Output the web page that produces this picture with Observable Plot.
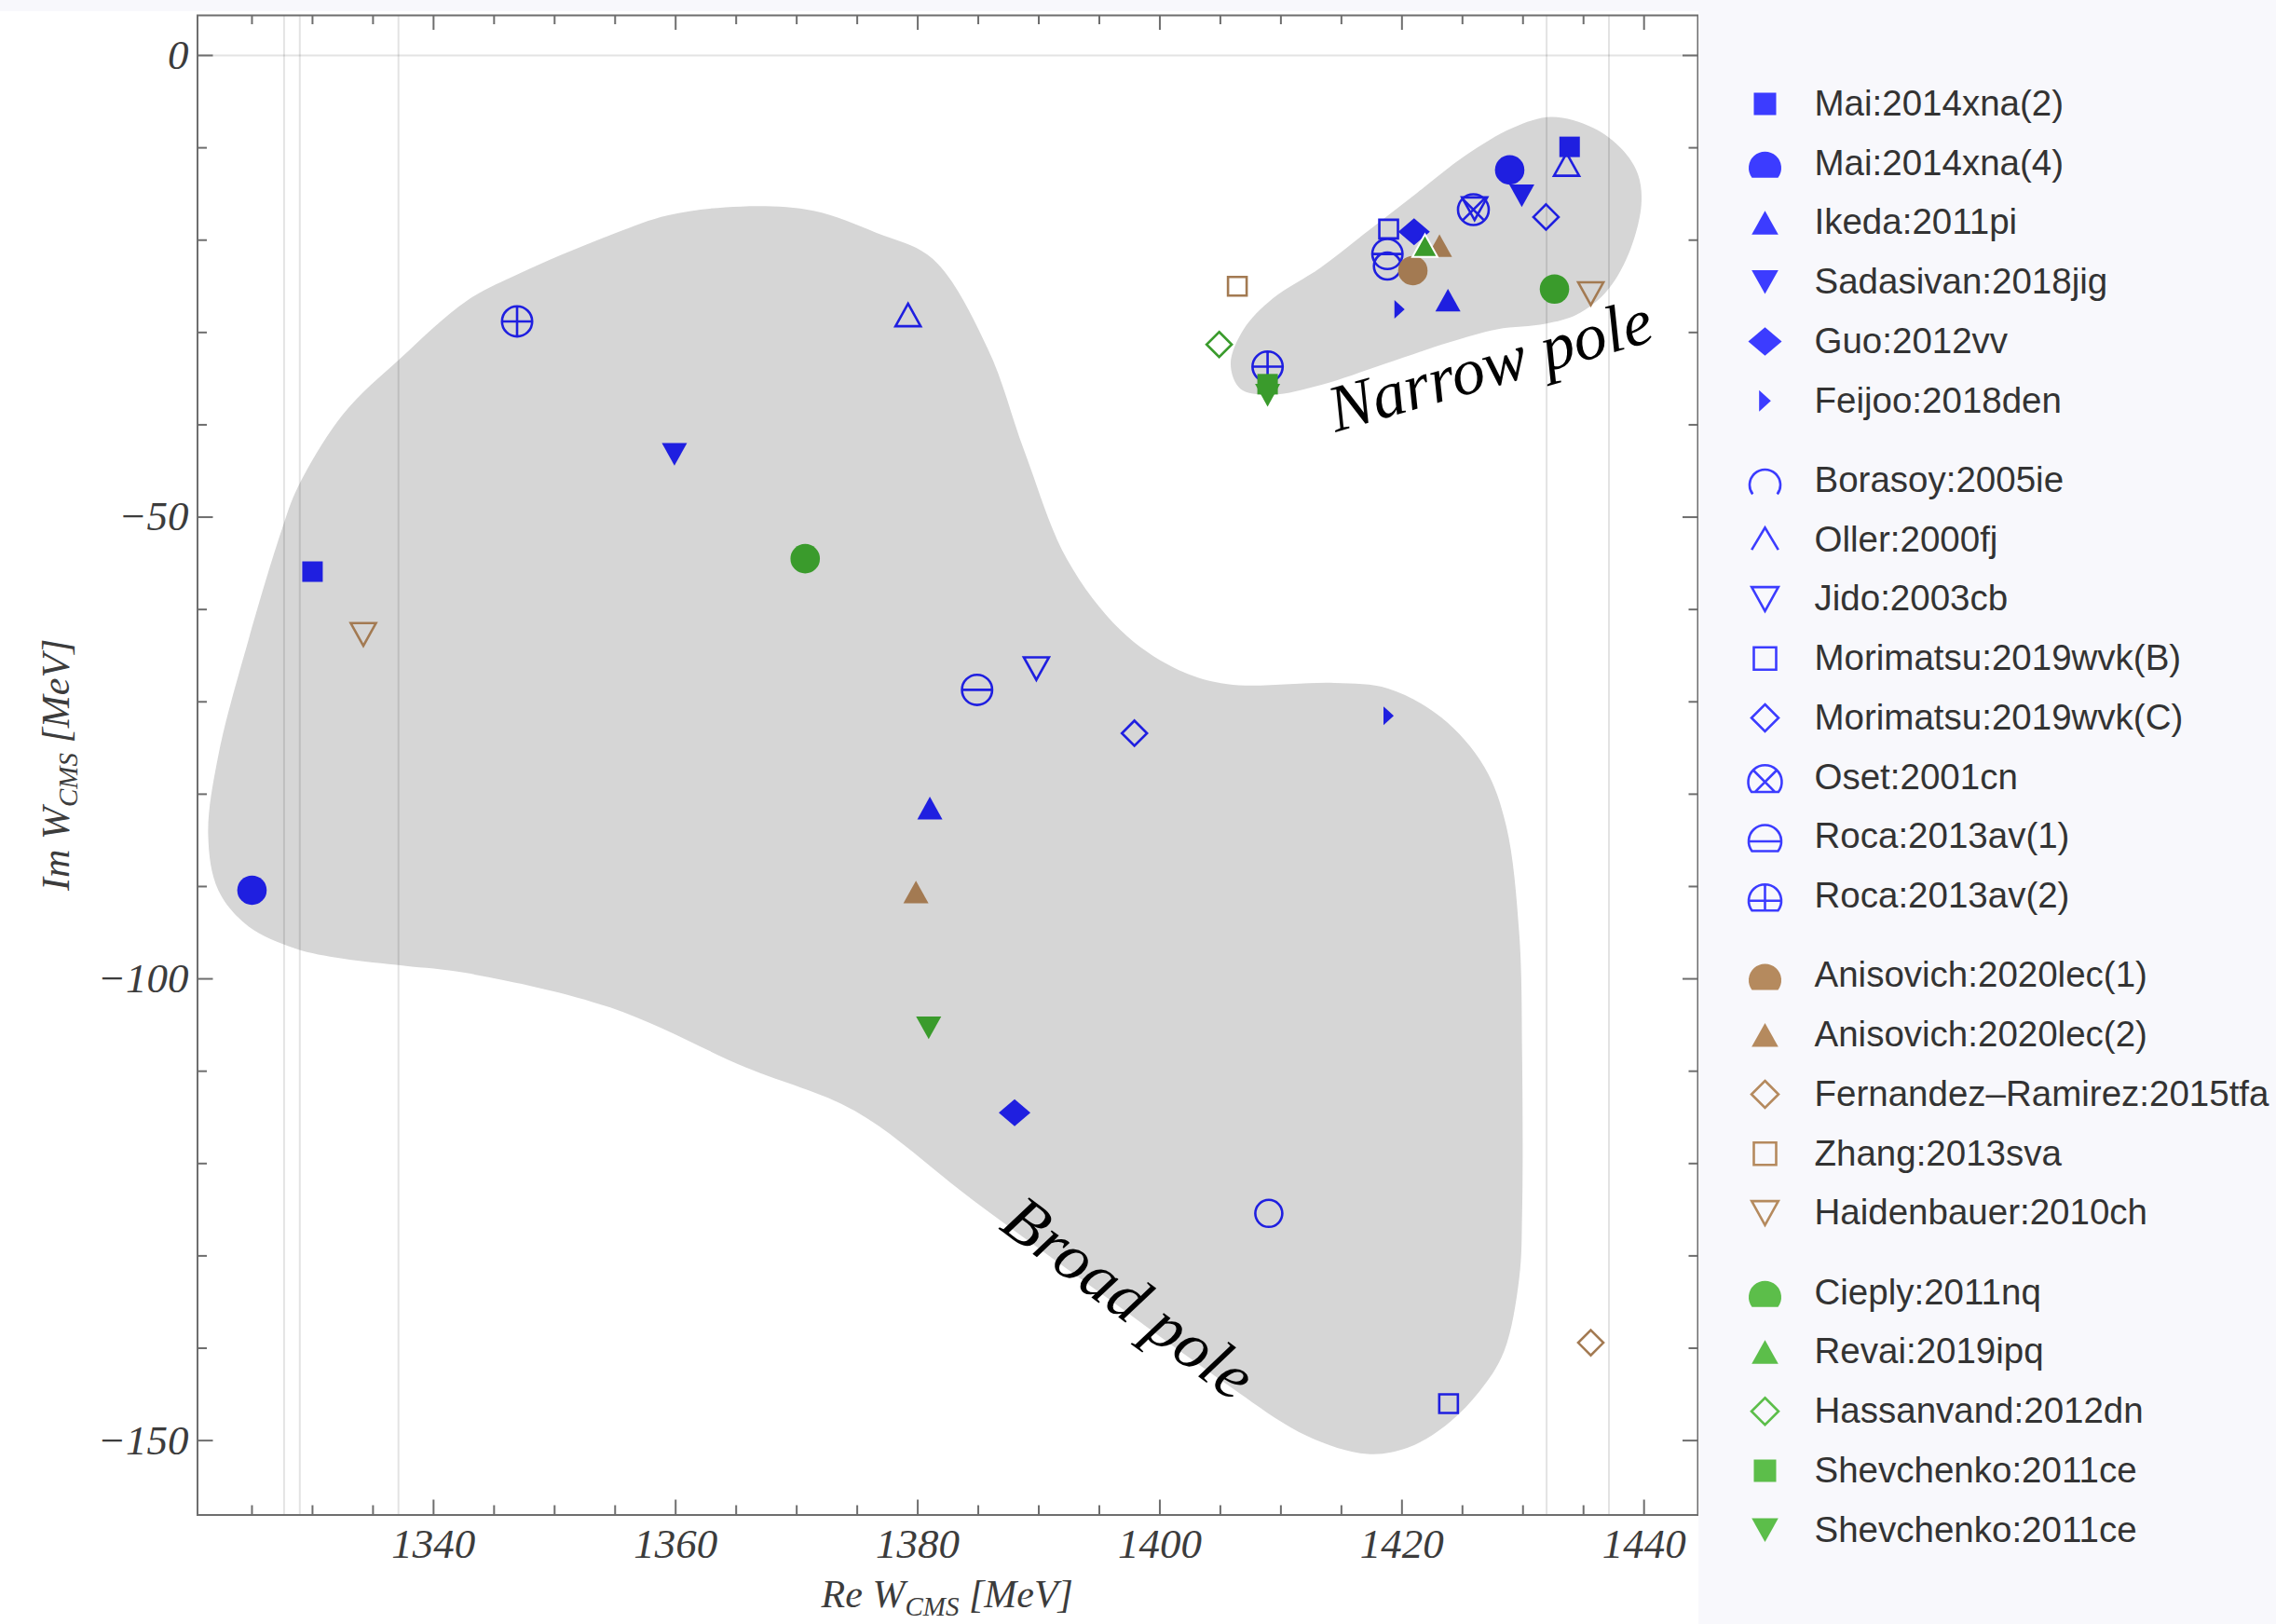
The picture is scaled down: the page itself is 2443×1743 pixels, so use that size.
<!DOCTYPE html>
<html><head><meta charset="utf-8">
<script src="https://cdn.jsdelivr.net/npm/d3@7"></script>
<script src="https://cdn.jsdelivr.net/npm/@observablehq/plot@0.6"></script>
<style>
html,body{margin:0;padding:0;background:#f8f8fc;}
#wrap{position:relative;width:2443px;height:1743px;overflow:hidden;background:#f8f8fc;}
#main{position:absolute;left:0;top:12px;}
#legend{position:absolute;left:1823px;top:0;}
</style></head>
<body><div id="wrap"><div id="main"></div><div id="legend"></div></div>
<script>
// ---------------- data ----------------
const labels = ["Mai:2014xna(2)","Mai:2014xna(4)","Ikeda:2011pi","Sadasivan:2018jig","Guo:2012vv","Feijoo:2018den",
  "Borasoy:2005ie","Oller:2000fj","Jido:2003cb","Morimatsu:2019wvk(B)","Morimatsu:2019wvk(C)","Oset:2001cn","Roca:2013av(1)","Roca:2013av(2)",
  "Anisovich:2020lec(1)","Anisovich:2020lec(2)","Fernandez\u2013Ramirez:2015tfa","Zhang:2013sva","Haidenbauer:2010ch",
  "Cieply:2011nq","Revai:2019ipq","Hassanvand:2012dn","Shevchenko:2011ce","Shevchenko:2011ce"];
const groupOf = [0,0,0,0,0,0, 1,1,1,1,1,1,1,1, 2,2,2,2,2, 3,3,3,3,3];
const markerOf = ["square","circle","triUp","triDown","diamondWide","triRight",
  "circle","triUp","triDown","square","diamond","circX","circH","circP",
  "circle","triUp","diamond","square","triDown",
  "circle","triUp","diamond","square","triDown"];
const legendMarkerOf = ["square","domeF","triUp","triDown","diamondWide","triRight",
  "domeO","vee","triDown","square","diamond","domeX","domeH","domeP",
  "domeF","triUp","diamond","square","triDown",
  "domeF","triUp","diamond","square","triDown"];
const filledOf = [1,1,1,1,1,1, 0,0,0,0,0,0,0,0, 1,1,0,0,0, 1,1,0,1,1];
const poleRe = [[1330,1433.85],[1325,1428.9],[1381,1423.8],[1359.9,1429.9],[1388,1421],[1418.9,1419.8],
  [1409,1418.8],[1379.2,1433.6],[1389.8,1426],[1423.85,1418.9],[1397.9,1431.9],[1425.9],[1384.9,1418.8],[1346.9,1408.9],
  [1420.9],[1379.85,1423.1],[1435.6],[1406.4],[1334.2,1435.6],
  [1370.7,1432.6],[1421.9],[1404.9],[1408.9],[1380.9,1408.9]];
const poleIm = [[-55.9,-9.9],[-90.4,-12.4],[-81.5,-26.5],[-43.2,-15.2],[-114.5,-19.1],[-71.5,-27.5],
  [-125.4,-22.8],[-28.1,-11.8],[-66.4,-16.6],[-146,-18.8],[-73.4,-17.5],[-16.7],[-68.7,-21.5],[-28.8,-33.7],
  [-23.3],[-90.6,-20.6],[-139.4],[-25],[-62.7,-25.8],
  [-54.5,-25.3],[-20.6],[-31.3],[-35.6],[-105.3,-36.8]];

const broadBlobRe = [1321.38,1322.22,1324.73,1328.57,1332.47,1337.57,1342.73,1354.6,1365.82,1374.8,1384.6,1395.6,1405.2,1412.01,1417.14,1420.48,1423.56,1426.38,1428.43,1429.69,1429.93,1429.93,1429.69,1428.61,1426.81,1423.25,1418.85,1414.43,1405.58,1401.14,1396.75,1392.33,1388.79,1385.79,1381.23,1376.55,1371.4,1365.4,1359.4,1354.96,1347.1,1342.73,1337.33,1332.53,1328.81,1327.49,1324.73,1322.22];
const broadBlobIm = [-84.44,-90.41,-94.34,-96.7,-97.8,-98.58,-99.37,-103.1,-109.6,-114.3,-124.0,-134.5,-143.6,-149.4,-151.45,-150.77,-148.42,-144.72,-140.35,-132.38,-125.15,-108.65,-95.13,-83.41,-77.05,-71.7,-68.56,-67.96,-68.09,-66.29,-62.24,-54.57,-42.77,-31.77,-22.03,-19.19,-16.83,-16.36,-17.3,-19.27,-23.6,-26.58,-32.71,-38.84,-46.7,-51.26,-63.21,-75.79];
const narrowBlobRe = [1432.36,1435.8,1438.2,1439.5,1439.77,1438.69,1436.85,1434.46,1431.85,1427.85,1423.88,1418.58,1413.28,1409.31,1406.67,1405.85,1406.92,1409.31,1413.28,1417.26,1421.23,1425.2,1429.15];
const narrowBlobIm = [-6.66,-7.84,-10.19,-12.88,-16.24,-21.59,-25.63,-28.05,-29.06,-29.66,-31.08,-33.4,-35.7,-36.73,-36.12,-33.4,-29.66,-26.33,-22.97,-18.94,-14.9,-10.87,-7.84];

const thresholds = [1327.65, 1328.95, 1337.1, 1431.95, 1437.1];
const xMajor = [1340,1360,1380,1400,1420,1440];
const xMinor = [1325,1330,1335,1345,1350,1355,1365,1370,1375,1385,1390,1395,1405,1410,1415,1425,1430,1435];
const yMajor = [0,-50,-100,-150];
const yMinor = [-10,-20,-30,-40,-60,-70,-80,-90,-110,-120,-130,-140];
const xDomain = [1320.5, 1444.45];
const yDomain = [-158.06, 4.34];
const noteText = ["Narrow pole","Broad pole"];
const noteRe = [1427.3, 1397.4];
const noteIm = [-33.6, -134.6];
const noteAngle = [-16, 36.5];

// ---------------- styling ----------------
const plotColor = ["#1f1fe0","#1f1fe0","#a37a52","#3a9b2c"];
const legColor = ["#3c3cff","#3c3cff","#b58a5e","#5cbe4a"];
const plotR = {square:11, circle:15.8, triUp:13.5, triDown:13.5, diamondWide:17, triRight:10, diamond:13.5, circX:16.5, circH:16.2, circP:16.2};
const openR = {circle:14.5, triUp:13.5, triDown:13.5, square:10, diamond:13.5, circX:16.5, circH:16.2, circP:16.2};
const legR = {square:12, domeF:17.5, triUp:14.3, triDown:14.3, diamondWide:18, triRight:11.5, domeO:16.5, vee:14.3, diamond:14.5, domeX:18, domeH:17.5, domeP:17.5};

const serif = "'Liberation Serif','Times New Roman',serif";
const sans = "'Liberation Sans',Arial,Helvetica,sans-serif";

// ---------------- symbols ----------------
const rOf = s => Math.sqrt(s / Math.PI);
const mk = fn => ({draw(c, s) { fn(c, rOf(s)); }});
const K = 0.6; // legend clip
const th = Math.asin(K);
function dome(c, r, close) {
  c.moveTo(r * Math.cos(th), r * K);
  c.arc(0, 0, r, th, Math.PI - th, true);
  if (close) c.closePath();
}
const SYM = {
  square: mk((c,r)=>{c.moveTo(-r,-r);c.lineTo(r,-r);c.lineTo(r,r);c.lineTo(-r,r);c.closePath();}),
  circle: mk((c,r)=>{c.moveTo(r,0);c.arc(0,0,r,0,2*Math.PI);c.closePath();}),
  triUp: mk((c,r)=>{const h=1.8*r;c.moveTo(0,-h/2);c.lineTo(r,h/2);c.lineTo(-r,h/2);c.closePath();}),
  triDown: mk((c,r)=>{const h=1.8*r;c.moveTo(0,h/2);c.lineTo(r,-h/2);c.lineTo(-r,-h/2);c.closePath();}),
  triRight: mk((c,r)=>{const w=0.55*r;c.moveTo(-w,-r);c.lineTo(w,0);c.lineTo(-w,r);c.closePath();}),
  diamond: mk((c,r)=>{c.moveTo(0,-r);c.lineTo(r,0);c.lineTo(0,r);c.lineTo(-r,0);c.closePath();}),
  diamondWide: mk((c,r)=>{const h=0.85*r;c.moveTo(0,-h);c.lineTo(r,0);c.lineTo(0,h);c.lineTo(-r,0);c.closePath();}),
  circX: mk((c,r)=>{c.moveTo(r,0);c.arc(0,0,r,0,2*Math.PI);c.closePath();const k=r*Math.SQRT1_2;c.moveTo(-k,-k);c.lineTo(k,k);c.moveTo(k,-k);c.lineTo(-k,k);}),
  circH: mk((c,r)=>{c.moveTo(r,0);c.arc(0,0,r,0,2*Math.PI);c.closePath();c.moveTo(-r,0);c.lineTo(r,0);}),
  circP: mk((c,r)=>{c.moveTo(r,0);c.arc(0,0,r,0,2*Math.PI);c.closePath();c.moveTo(-r,0);c.lineTo(r,0);c.moveTo(0,-r);c.lineTo(0,r);}),
  domeF: mk((c,r)=>dome(c,r,true)),
  domeO: mk((c,r)=>dome(c,r,false)),
  domeX: mk((c,r)=>{dome(c,r,true);const k=r*Math.SQRT1_2,b=r*K;c.moveTo(-k,-k);c.lineTo(b,b);c.moveTo(k,-k);c.lineTo(-b,b);}),
  domeH: mk((c,r)=>{dome(c,r,true);c.moveTo(-r,0);c.lineTo(r,0);}),
  domeP: mk((c,r)=>{dome(c,r,true);c.moveTo(-r,0);c.lineTo(r,0);c.moveTo(0,-r);c.lineTo(0,r*K);}),
  vee: mk((c,r)=>{const h=1.8*r;c.moveTo(-r,h/2-2);c.lineTo(0,-h/2);c.lineTo(r,h/2-2);})
};

// ---------------- tables ----------------
const poles = [];
labels.forEach((label, i) => poleRe[i].forEach((re, j) => poles.push({s: i, label, re, im: poleIm[i][j]})));
const broadBlob = broadBlobRe.map((re, i) => ({re, im: broadBlobIm[i]}));
const narrowBlob = narrowBlobRe.map((re, i) => ({re, im: narrowBlobIm[i]}));
const notes = noteText.map((t, i) => ({t, re: noteRe[i], im: noteIm[i], a: noteAngle[i]}));

// ---------------- main plot ----------------
const mainW = 1823, mainH = 1731, mL = 211.5, mR = 1, mT = 4, mB = 117.5;
const plotW = mainW - mL - mR, plotH = mainH - mT - mB;
const frameColor = "#6e6e6e";

const marks = [
  Plot.line(broadBlob, {x: "re", y: "im", curve: "catmull-rom-closed", fill: "#d6d6d6", stroke: "none"}),
  Plot.line(narrowBlob, {x: "re", y: "im", curve: "catmull-rom-closed", fill: "#d6d6d6", stroke: "none"}),
  Plot.ruleX(thresholds, {stroke: "#000", strokeOpacity: 0.11, strokeWidth: 2}),
  Plot.ruleY([0], {stroke: "#000", strokeOpacity: 0.11, strokeWidth: 2})
];
labels.forEach((label, i) => {
  const m = markerOf[i], f = filledOf[i], col = plotColor[groupOf[i]];
  const extra = (label === "Revai:2019ipq") ? {stroke: "white", strokeWidth: 2} : {};
  marks.push(Plot.dot(poles.filter(d => d.s === i), f ? {
    x: "re", y: "im", symbol: SYM[m], r: plotR[m], fill: col, stroke: "none", ...extra
  } : {
    x: "re", y: "im", symbol: SYM[m], r: openR[m], fill: "none", stroke: col, strokeWidth: 2.6
  }));
});
marks.push(
  Plot.ruleX(xMajor, {insetTop: plotH - 16, stroke: frameColor, strokeWidth: 2}),
  Plot.ruleX(xMinor, {insetTop: plotH - 10, stroke: frameColor, strokeWidth: 2}),
  Plot.ruleX(xMajor, {insetBottom: plotH - 16, stroke: frameColor, strokeWidth: 2}),
  Plot.ruleX(xMinor, {insetBottom: plotH - 10, stroke: frameColor, strokeWidth: 2}),
  Plot.ruleY(yMajor, {insetRight: plotW - 17, stroke: frameColor, strokeWidth: 2}),
  Plot.ruleY(yMinor, {insetRight: plotW - 10.5, stroke: frameColor, strokeWidth: 2}),
  Plot.ruleY(yMajor, {insetLeft: plotW - 16, stroke: frameColor, strokeWidth: 2}),
  Plot.ruleY(yMinor, {insetLeft: plotW - 9.5, stroke: frameColor, strokeWidth: 2}),
  Plot.frame({stroke: frameColor, strokeWidth: 2}),
  Plot.axisX({ticks: xMajor, tickSize: 0, tickPadding: 14.5, fontSize: 45, fontStyle: "italic", fontFamily: serif, color: "#3c3c3c", label: null, tickFormat: d => String(d)}),
  Plot.axisY({ticks: yMajor, tickSize: 0, tickPadding: 9.5, fontSize: 45, fontStyle: "italic", fontFamily: serif, color: "#3c3c3c", label: null, tickFormat: d => d < 0 ? "\u2212" + Math.abs(d) : String(d)}),
  Plot.text(notes, {x: "re", y: "im", text: "t", rotate: "a", fontSize: 71, fontStyle: "italic", fontFamily: serif, fill: "#000"})
);

const mainPlot = Plot.plot({
  width: mainW, height: mainH,
  marginLeft: mL, marginRight: mR, marginTop: mT, marginBottom: mB,
  x: {domain: xDomain},
  y: {domain: yDomain},
  style: {background: "white", fontFamily: serif, overflow: "visible"},
  marks
});
document.getElementById("main").appendChild(mainPlot);

// axis titles with subscripts
const svg = d3.select(mainPlot);
const xl = svg.append("text")
  .attr("x", (mL + mainW - mR) / 2).attr("y", 1713)
  .attr("text-anchor", "middle").attr("font-family", serif).attr("font-style", "italic")
  .attr("font-size", 42).attr("fill", "#3c3c3c").style("white-space", "pre");
xl.append("tspan").text("Re W");
xl.append("tspan").attr("font-size", 29).attr("dy", 9).text("CMS");
xl.append("tspan").attr("dy", -9).text(" [MeV]");
const yl = svg.append("text")
  .attr("transform", `translate(74,${(mT + mainH - mB) / 2}) rotate(-90)`)
  .attr("text-anchor", "middle").attr("font-family", serif).attr("font-style", "italic")
  .attr("font-size", 42).attr("fill", "#3c3c3c").style("white-space", "pre");
yl.append("tspan").text("Im W");
yl.append("tspan").attr("font-size", 29).attr("dy", 9).text("CMS");
yl.append("tspan").attr("dy", -9).text(" [MeV]");

// ---------------- legend ----------------
const legendTop = 111, legendStep = 63.75, legendGap = 21.5;
const legendRows = labels.map((label, i) => ({label, i, g: groupOf[i]}));
const rowY = d => legendTop + d.i * legendStep + d.g * legendGap;
const legMarks = [];
legendRows.forEach((d, i) => {
  const m = legendMarkerOf[i], f = filledOf[i], col = legColor[groupOf[i]];
  const dy = m.startsWith("dome") ? 5 : 0;
  legMarks.push(Plot.dot([d], f ? {
    x: () => 71, y: rowY, dy, symbol: SYM[m], r: legR[m], fill: col, stroke: "none"
  } : {
    x: () => 71, y: rowY, dy, symbol: SYM[m], r: legR[m], fill: "none", stroke: col, strokeWidth: 2.6
  }));
});
legMarks.push(Plot.text(legendRows, {x: () => 124, y: rowY, text: "label", textAnchor: "start", fontSize: 38.5, fontFamily: sans, fill: "#333"}));
const legendPlot = Plot.plot({
  width: 620, height: 1743, margin: 0,
  x: {type: "identity", axis: null},
  y: {type: "identity", axis: null},
  style: {background: "#f8f8fc", fontFamily: sans},
  marks: legMarks
});
document.getElementById("legend").appendChild(legendPlot);
</script>
</body></html>
